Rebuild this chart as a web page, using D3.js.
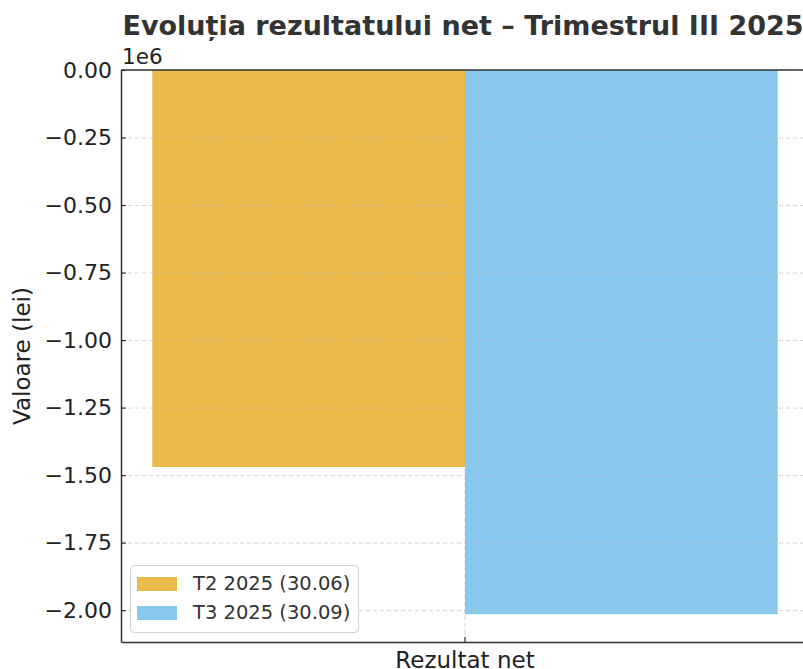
<!DOCTYPE html>
<html>
<head>
<meta charset="utf-8">
<script src="https://cdn.jsdelivr.net/npm/d3@7"></script>
<style>
body { margin: 0; background: #fff; }
svg { display: block; font-family: "DejaVu Sans", sans-serif; }
</style>
</head>
<body>
<svg id="chart" width="803" height="669"></svg>
<script>
var categories = ['Rezultat net'];
var seriesNames = ['T2 2025 (30.06)', 'T3 2025 (30.09)'];
var seriesValues = [[-1470000], [-2015000]];
var yTicks = [0, -250000, -500000, -750000, -1000000, -1250000, -1500000, -1750000, -2000000];
var colors = ['#ecb94b', '#88c7ee'];

var plotLeft = 121, plotRight = 809, plotTop = 70, plotBottom = 642;
var svg = d3.select('#chart');

var y = d3.scaleLinear().domain([-2118000, 0]).range([plotBottom, plotTop]);
var x0 = d3.scaleBand().domain(categories).range([plotLeft, plotRight]).paddingOuter(0.05).paddingInner(0);
var x1 = d3.scaleBand().domain(seriesNames).range([0, x0.bandwidth()]);

// bars
categories.forEach(function (c, ci) {
    svg.append('g').selectAll('rect')
        .data(seriesNames)
        .enter().append('rect')
        .attr('x', function (s) { return x0(c) + x1(s); })
        .attr('width', x1.bandwidth())
        .attr('y', function (s, i) { return y(Math.max(0, seriesValues[i][ci])); })
        .attr('height', function (s, i) { return Math.abs(y(seriesValues[i][ci]) - y(0)); })
        .style('fill', function (s, i) { return colors[i]; });
});

// grid on top
var grid = svg.append('g');
grid.selectAll('line.h')
    .data(yTicks)
    .enter().append('line')
    .attr('class', 'h')
    .attr('x1', plotLeft).attr('x2', plotRight)
    .attr('y1', function (d) { return y(d) + 0.5; })
    .attr('y2', function (d) { return y(d) + 0.5; })
    .attr('stroke', '#b0b0b0').attr('stroke-opacity', 0.6)
    .attr('stroke-dasharray', '4,3').attr('stroke-width', 0.9);
grid.selectAll('line.v')
    .data(categories)
    .enter().append('line')
    .attr('class', 'v')
    .attr('x1', function (c) { return x0(c) + x0.bandwidth() / 2; })
    .attr('x2', function (c) { return x0(c) + x0.bandwidth() / 2; })
    .attr('y1', plotTop).attr('y2', plotBottom)
    .attr('stroke', '#b0b0b0').attr('stroke-opacity', 0.6)
    .attr('stroke-dasharray', '4,3').attr('stroke-width', 0.9);

// axes
var yAxis = d3.axisLeft(y).tickValues(yTicks)
    .tickFormat(function (d) { return d3.format('.2f')(d / 1e6).replace('-', '\u2212'); })
    .tickSizeInner(-5).tickSizeOuter(0).tickPadding(9);
var gy = svg.append('g').attr('transform', 'translate(' + plotLeft + ',0)').call(yAxis);
gy.select('.domain').attr('stroke', '#333').attr('stroke-width', 1.5);
gy.selectAll('.tick line').attr('stroke', '#333').attr('stroke-width', 1.2);
gy.selectAll('.tick text').attr('font-size', 22).attr('fill', '#222')
    .attr('font-family', 'DejaVu Sans');

var xAxis = d3.axisBottom(x0).tickSizeInner(-5).tickSizeOuter(0).tickPadding(10);
var gx = svg.append('g').attr('transform', 'translate(0,' + plotBottom + ')').call(xAxis);
gx.select('.domain').attr('stroke', '#333').attr('stroke-width', 1.5);
gx.selectAll('.tick line').attr('stroke', '#333').attr('stroke-width', 1.2);
gx.selectAll('.tick text').attr('font-size', 23).attr('fill', '#222')
    .attr('font-family', 'DejaVu Sans');

// top spine
svg.append('line').attr('x1', plotLeft).attr('x2', plotRight).attr('y1', plotTop).attr('y2', plotTop)
    .attr('stroke', '#333').attr('stroke-width', 1.5);

// offset text
svg.append('text').attr('x', plotLeft + 1).attr('y', 64).attr('font-size', 21.5)
    .attr('fill', '#222').text('1e6');

// title
svg.append('text').attr('x', (plotLeft + plotRight) / 2 - 2).attr('y', 35)
    .attr('text-anchor', 'middle').attr('font-size', 27).attr('font-weight', 'bold')
    .attr('fill', '#333').text('Evoluția rezultatului net – Trimestrul III 2025');

// y label
svg.append('text').attr('transform', 'translate(30,' + (plotTop + plotBottom) / 2 + ') rotate(-90)')
    .attr('text-anchor', 'middle').attr('font-size', 23).attr('fill', '#222')
    .text('Valoare (lei)');

// legend
var lg = svg.append('g');
lg.append('rect').attr('x', 130.5).attr('y', 565.5).attr('width', 228).attr('height', 67)
    .attr('rx', 4).attr('fill', '#fff').attr('fill-opacity', 0.8)
    .attr('stroke', '#d0d0d0');
seriesNames.forEach(function (s, i) {
    lg.append('rect').attr('x', 137).attr('y', 577 + i * 29).attr('width', 40).attr('height', 14)
        .style('fill', colors[i]);
    lg.append('text').attr('x', 193).attr('y', 590 + i * 29).attr('font-size', 19.5)
        .attr('fill', '#333').text(s);
});
</script>
</body>
</html>
